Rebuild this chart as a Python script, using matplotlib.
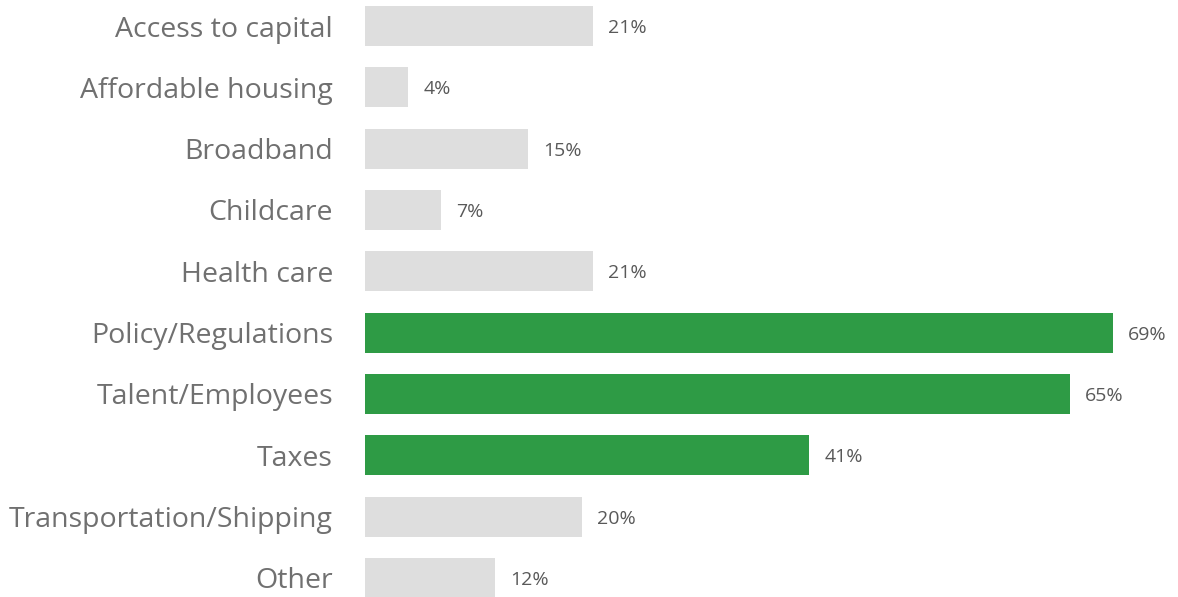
import matplotlib.pyplot as plt

categories = ["Access to capital", "Affordable housing", "Broadband", "Childcare",
              "Health care", "Policy/Regulations", "Talent/Employees", "Taxes",
              "Transportation/Shipping", "Other"]
values = [21, 4, 15, 7, 21, 69, 65, 41, 20, 12]
highlight = ["Policy/Regulations", "Talent/Employees", "Taxes"]

GRAY = "#dedede"
GREEN = "#2e9b45"

plt.rcParams['font.family'] = ['Open Sans', 'DejaVu Sans']

fig = plt.figure(figsize=(11.78, 5.97), dpi=100)
ax = fig.add_axes([365 / 1178, 0, 813 / 1178, 1])

colors = [GREEN if c in highlight else GRAY for c in categories]
ypos = range(len(categories))
ax.barh(ypos, values, height=0.652, color=colors)

for y, v in zip(ypos, values):
    ax.annotate(f"{v}%", (v, y), xytext=(11, 0), textcoords="offset points",
                va="center_baseline", ha="left", fontsize=14, color="#595959")

ax.set_xlim(0, 75)
ax.set_ylim(9.31, -0.424)
ax.set_yticks(list(ypos))
ax.set_yticklabels(categories, fontsize=20.5, color="#707070")
ax.tick_params(axis="y", length=0, pad=23)
ax.set_xticks([])
for s in ax.spines.values():
    s.set_visible(False)

fig.savefig("out.png", dpi=100)
